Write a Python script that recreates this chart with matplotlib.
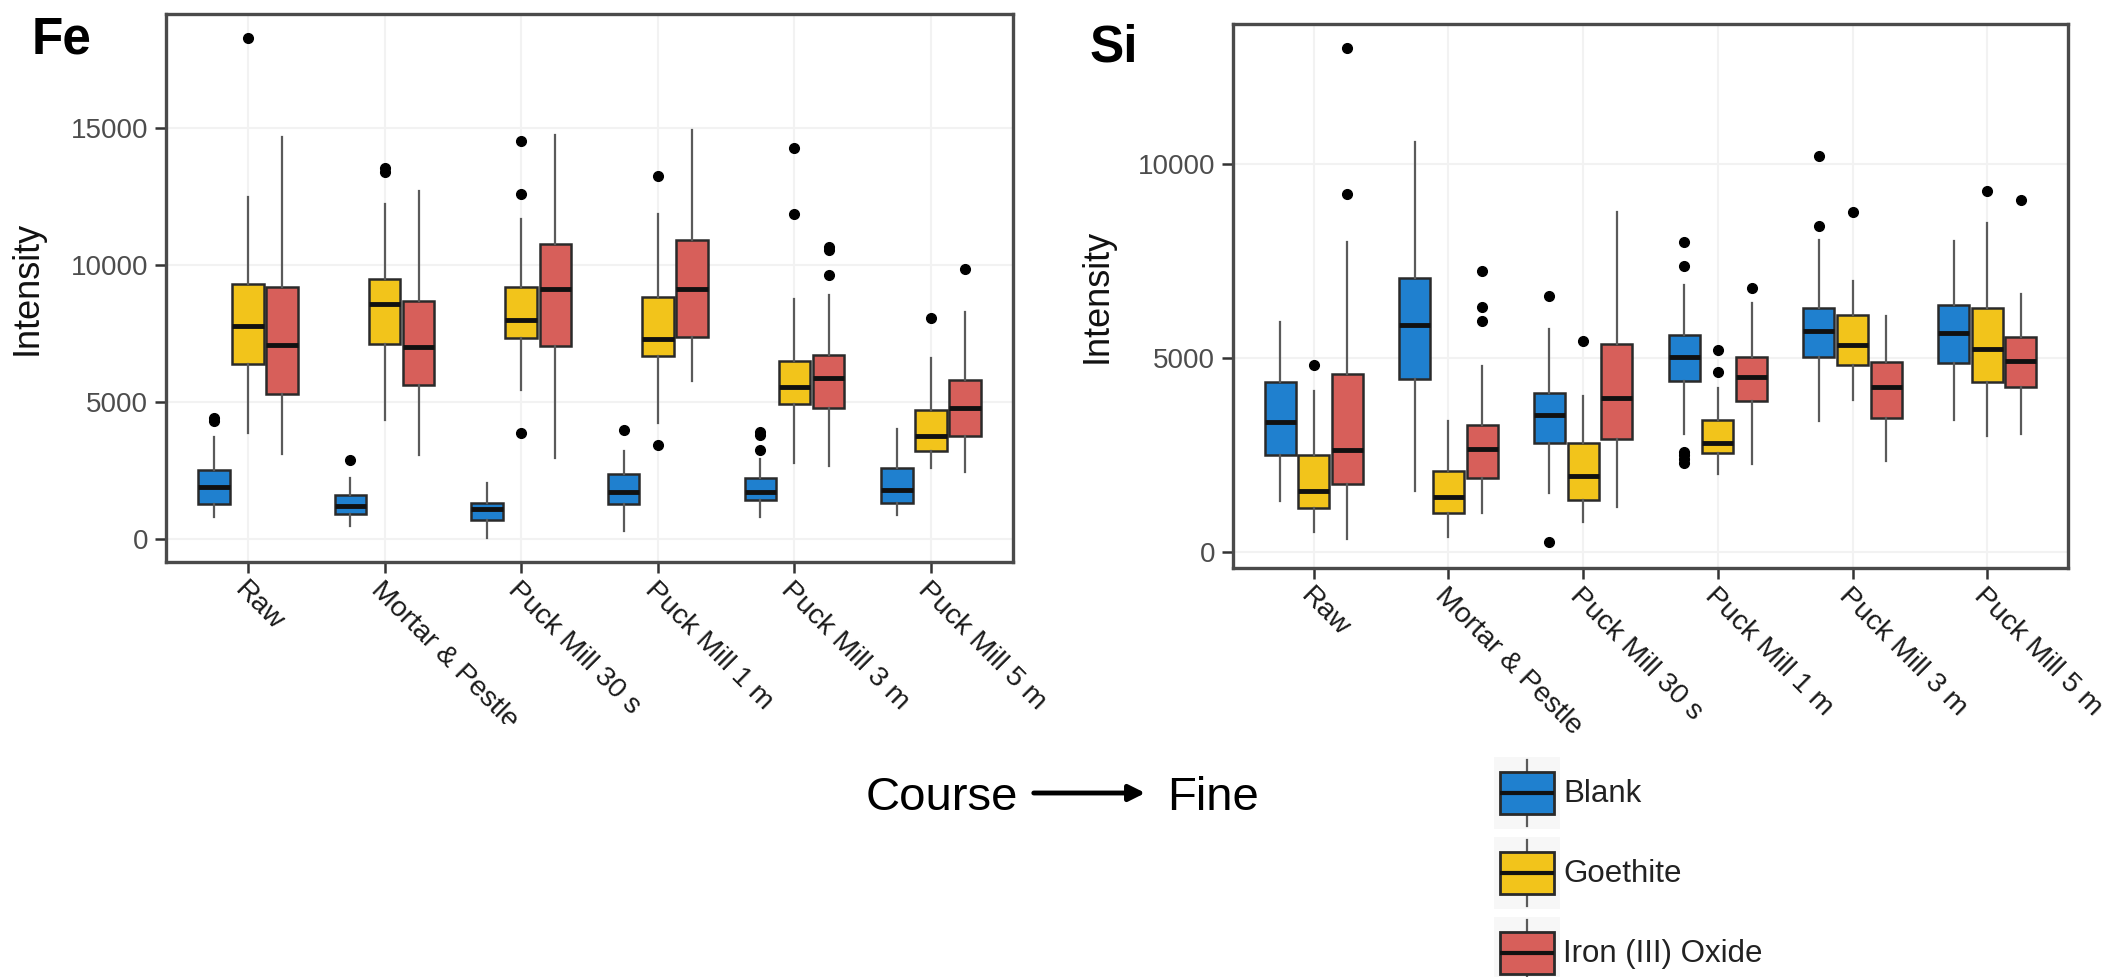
import numpy as np
import matplotlib
matplotlib.use('Agg')
import matplotlib.pyplot as plt
from matplotlib import font_manager
from matplotlib.patches import Patch, Rectangle, FancyArrowPatch
from matplotlib.lines import Line2D
from matplotlib.legend_handler import HandlerBase
from matplotlib.transforms import Bbox, TransformedBbox

# %%
# data
categories = ['Raw', 'Mortar & Pestle', 'Puck Mill 30 s', 'Puck Mill 1 m', 'Puck Mill 3 m', 'Puck Mill 5 m']
series = ['Blank', 'Goethite', 'Iron (III) Oxide']
colors = ['#1F80CF', '#F2C41B', '#D75F5A']

# one row per category: whisker low, Q1, median, Q3, whisker high
fe_blank = [[810, 1290, 1900, 2510, 3730],
            [480, 920, 1220, 1590, 2240],
            [30, 710, 1090, 1320, 2040],
            [310, 1290, 1720, 2380, 3220],
            [810, 1420, 1700, 2210, 2920],
            [860, 1320, 1800, 2580, 4000]]
fe_blank_out = [[4300, 4420], [2880], [], [3980], [3260, 3800, 3900], []]

fe_goethite = [[3870, 6380, 7780, 9300, 12480],
               [4340, 7120, 8590, 9500, 12210],
               [5430, 7330, 8010, 9190, 11670],
               [4230, 6690, 7290, 8820, 11850],
               [2760, 4910, 5540, 6490, 8750],
               [2580, 3220, 3760, 4710, 6610]]
fe_goethite_out = [[18300], [13400, 13550], [3870, 12580, 14520], [3420, 13260], [11870, 14280], [8070]]

fe_iron = [[3120, 5290, 7080, 9200, 14660],
           [3080, 5630, 6990, 8690, 12690],
           [2950, 7060, 9130, 10760, 14750],
           [5770, 7370, 9120, 10900, 14930],
           [2670, 4790, 5880, 6720, 8900],
           [2440, 3760, 4790, 5790, 8300]]
fe_iron_out = [[], [], [], [], [9650, 10550, 10650], [9840]]

si_blank = [[1310, 2490, 3350, 4380, 5930],
            [1580, 4460, 5840, 7050, 10560],
            [1510, 2800, 3520, 4090, 5760],
            [3030, 4410, 5020, 5590, 6870],
            [3380, 5020, 5690, 6280, 8030],
            [3400, 4870, 5640, 6360, 8020]]
si_blank_out = [[], [], [250, 6590], [2300, 2400, 2500, 2590, 7380, 8000], [8410, 10210], []]

si_goethite = [[520, 1140, 1560, 2510, 4140],
               [390, 1010, 1410, 2100, 3380],
               [770, 1340, 1950, 2810, 4030],
               [2020, 2560, 2800, 3410, 4230],
               [3920, 4830, 5340, 6110, 6990],
               [2980, 4390, 5230, 6280, 8490]]
si_goethite_out = [[4830], [], [5440], [4640, 5200], [8770], [9300]]

si_iron = [[340, 1750, 2640, 4580, 7980],
           [1010, 1920, 2660, 3280, 4800],
           [1160, 2900, 3970, 5360, 8760],
           [2270, 3900, 4510, 5030, 6430],
           [2340, 3450, 4260, 4900, 6080],
           [3030, 4240, 4930, 5540, 6640]]
si_iron_out = [[9230, 12990], [5950, 6310, 7230], [], [6800], [], [9080]]

fe_yticks = [0, 5000, 10000, 15000]
si_yticks = [0, 5000, 10000]

# %%
plt.rcParams['font.family'] = ['Liberation Sans', 'DejaVu Sans']
installed = {f.name for f in font_manager.fontManager.ttflist}
narrow = 'Liberation Sans Narrow' in installed

W, H = 2121, 977
fig = plt.figure(figsize=(W / 100, H / 100), dpi=100)


def fig_box(x0, y0, x1, y1):
    # pixel box (top-left origin) -> figure fraction rect
    return [x0 / W, 1 - y1 / H, (x1 - x0) / W, (y1 - y0) / H]


ax_fe = fig.add_axes(fig_box(166, 14, 1013, 562))
ax_si = fig.add_axes(fig_box(1233, 24, 2068, 568))

offsets = [-0.25, 0.0, 0.25]


def make_stats(rows, outs):
    return [dict(whislo=r[0], q1=r[1], med=r[2], q3=r[3], whishi=r[4], fliers=o)
            for r, o in zip(rows, outs)]


def draw_panel(ax, data, ylim, yticks):
    pos = np.arange(1, len(categories) + 1)
    for k, (rows, outs) in enumerate(data):
        ax.bxp(make_stats(rows, outs), positions=pos + offsets[k], widths=0.23,
               patch_artist=True, showcaps=False, manage_ticks=False,
               boxprops=dict(facecolor=colors[k], edgecolor='#2a2a2a', linewidth=1.8),
               medianprops=dict(color='#111111', linewidth=3.5, solid_capstyle='butt'),
               whiskerprops=dict(color='#5a5a5a', linewidth=1.6),
               flierprops=dict(marker='o', markerfacecolor='black', markeredgecolor='black',
                               markersize=7))
    ax.set_xlim(0.4, len(categories) + 0.6)
    ax.set_ylim(*ylim)
    ax.set_yticks(yticks)
    ax.set_yticklabels([str(t) for t in yticks])
    ax.set_xticks(pos)
    ax.set_xticklabels(categories, rotation=-45, ha='left', va='top',
                       rotation_mode='anchor', fontsize=20.5, color='#1a1a1a')
    ax.grid(True, color='#F2F2F2', lw=1.5)
    ax.set_axisbelow(True)
    for s in ax.spines.values():
        s.set_color('#4a4a4a')
        s.set_linewidth(2.4)
    ax.tick_params(axis='both', length=8, width=1.8, color='#333333')
    ax.tick_params(axis='y', labelsize=20, labelcolor='#4D4D4D', pad=5)
    ax.tick_params(axis='x', pad=3)
    ax.set_ylabel('Intensity', fontsize=26, color='#111111')


draw_panel(ax_fe, [(fe_blank, fe_blank_out), (fe_goethite, fe_goethite_out), (fe_iron, fe_iron_out)],
           (-839, 19160), fe_yticks)
draw_panel(ax_si, [(si_blank, si_blank_out), (si_goethite, si_goethite_out), (si_iron, si_iron_out)],
           (-412, 13608), si_yticks)

ax_fe.yaxis.set_label_coords(-0.143, 0.5)
ax_si.yaxis.set_label_coords(-0.142, 0.5)

# the Fe panel's tick labels are cut off at the bottom in the original
clip = TransformedBbox(Bbox.from_extents(0, 1 - 724 / H, 0.55, 1), fig.transFigure)
for lab in ax_fe.get_xticklabels():
    lab.set_clip_box(clip)
    lab.set_clip_on(True)

# panel letters
fig.text(32 / W, 1 - 54 / H, 'Fe', fontsize=37, fontweight='bold', va='baseline', ha='left')
fig.text(1090 / W, 1 - 62 / H, 'Si', fontsize=37, fontweight='bold', va='baseline', ha='left')

# Course -> Fine note
fig.text(866 / W, 1 - 810 / H, 'Course', fontsize=34, va='baseline', ha='left')
fig.text(1167 / W, 1 - 810 / H, 'Fine', fontsize=34, va='baseline', ha='left')
fig.add_artist(FancyArrowPatch((1031 / W, 1 - 793 / H), (1148 / W, 1 - 793 / H),
                               transform=fig.transFigure, arrowstyle='-|>',
                               mutation_scale=24, lw=3.5, color='black'))


# %%
# legend keys drawn as little boxplots
class BoxKey(HandlerBase):
    def create_artists(self, legend, orig_handle, xdescent, ydescent, width, height, fontsize, trans):
        x0, y0 = -xdescent, -ydescent
        bh = height * 0.64
        by = y0 + (height - bh) / 2
        bg = Rectangle((x0 - 4, y0 - 2), width + 8, height + 4, facecolor='#F7F7F7',
                       edgecolor='none', transform=trans)
        wl = Line2D([x0 + width / 2] * 2, [y0, y0 + height], color='#5a5a5a', lw=1.6, transform=trans)
        box = Rectangle((x0, by), width, bh, facecolor=orig_handle.get_facecolor(),
                        edgecolor='#2a2a2a', lw=2, transform=trans)
        med = Line2D([x0, x0 + width], [by + bh / 2] * 2, color='#111111', lw=3,
                     solid_capstyle='butt', transform=trans)
        return [bg, wl, box, med]


if narrow:
    leg_font = dict(family='Liberation Sans Narrow', size=27)
else:
    leg_font = dict(family='Liberation Sans', size=22.5)
fs_px = leg_font['size'] * 100 / 72

# legend handle box height = fontsize * (0.65 * handleheight + 0.245)
key_h = 66
hh = (key_h / fs_px - 0.245) / 0.65

handles = [Patch(facecolor=c, label=s) for c, s in zip(colors, series)]
fig.legend(handles=handles, labels=series, handler_map={Patch: BoxKey()},
           loc='upper left', bbox_to_anchor=(1500 / W, 1 - 760 / H),
           frameon=False, borderpad=0, borderaxespad=0,
           handlelength=54 / fs_px, handleheight=hh,
           labelspacing=14 / fs_px, handletextpad=9 / fs_px,
           prop=leg_font, labelcolor='#222222')

fig.savefig('out.png', dpi=100)
